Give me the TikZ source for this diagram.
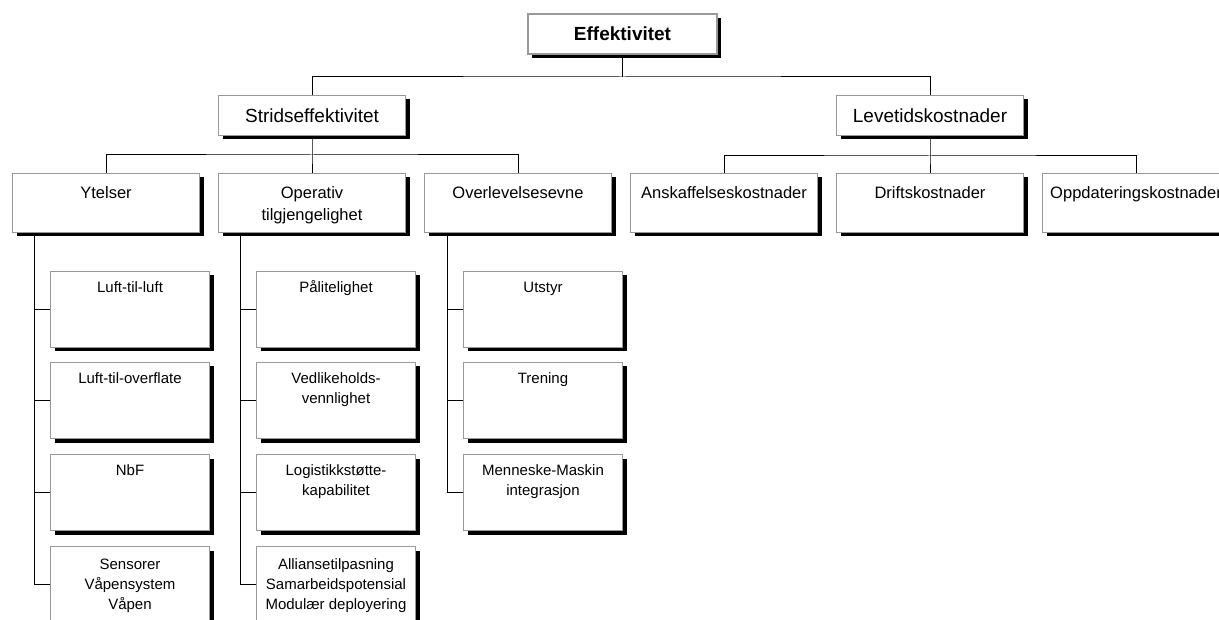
\documentclass[tikz,border=0pt]{standalone}
\usepackage{fontspec}
\setmainfont{Liberation Sans}
\usetikzlibrary{shadows}

% fixed-size cell with its text hung from the top edge:
% width, height, first baseline below top, text
\newcommand{\cell}[4]{\parbox[t][#2pt][t]{#1pt}{\centering\rule{0pt}{#3pt}#4}}

\tikzset{
  card/.style={draw=black!40, fill=white, line width=1pt, inner sep=0pt,
    anchor=north west,
    drop shadow={shadow xshift=4pt, shadow yshift=-4pt, fill=black, opacity=1}},
  rootbox/.style={card, line width=2pt, minimum width=189pt, minimum height=40pt,
    font=\bfseries\fontsize{19}{22}\selectfont},
  branchbox/.style={card, minimum width=187pt, minimum height=40pt,
    font=\fontsize{19}{22}\selectfont},
  groupbox/.style={card, font=\fontsize{16.5}{22}\selectfont},
  leafbox/.style={card, font=\fontsize{15}{20}\selectfont},
  link/.style={draw=black, line width=1pt},
}

\begin{document}
\begin{tikzpicture}[x=1pt, y=-1pt]
\clip (0,0) rectangle (1219,620);
\fill[white] (0,0) rectangle (1219,620);

% ---------- boxes ----------
\node[rootbox]   (eff)  at (527,13) {Effektivitet};
\node[branchbox] (strid) at (218,95) {Stridseffektivitet};
\node[branchbox] (lev)   at (836,95) {Levetidskostnader};

\node[groupbox] (ytel) at (12,173)   {\cell{187}{59}{25}{Ytelser}};
\node[groupbox] (opt)  at (218,173)  {\cell{187}{59}{25}{Operativ\\tilgjengelighet}};
\node[groupbox] (over) at (424,173)  {\cell{187}{59}{25}{Overlevelsesevne}};
\node[groupbox] (ansk) at (630,173)  {\cell{187}{59}{25}{Anskaffelseskostnader}};
\node[groupbox] (drif) at (836,173)  {\cell{187}{59}{25}{Driftskostnader}};
\node[groupbox] (oppd) at (1042,173) {\cell{187}{59}{25}{Oppdateringskostnader}};

\node[leafbox] (y1) at (50,271) {\cell{159}{76}{21}{Luft-til-luft}};
\node[leafbox] (y2) at (50,362) {\cell{159}{76}{21}{Luft-til-overflate}};
\node[leafbox] (y3) at (50,454) {\cell{159}{76}{21}{NbF}};
\node[leafbox] (y4) at (50,546) {\cell{159}{76}{23}{Sensorer\\Våpensystem\\Våpen}};

\node[leafbox] (o1) at (256,271) {\cell{159}{76}{21}{Pålitelighet}};
\node[leafbox] (o2) at (256,362) {\cell{159}{76}{21}{Vedlikeholds-\\vennlighet}};
\node[leafbox] (o3) at (256,454) {\cell{159}{76}{21}{Logistikkstøtte-\\kapabilitet}};
\node[leafbox] (o4) at (256,546) {\cell{159}{76}{23}{Alliansetilpasning\\Samarbeidspotensial\\Modulær deployering}};

\node[leafbox] (v1) at (463,271) {\cell{159}{76}{21}{Utstyr}};
\node[leafbox] (v2) at (463,362) {\cell{159}{76}{21}{Trening}};
\node[leafbox] (v3) at (463,454) {\cell{159}{76}{21}{Menneske-Maskin\\integrasjon}};

% ---------- junction points ----------
\coordinate (j0) at (eff.south |- 0,77);
\coordinate (j1) at (strid.south |- 0,155);
\coordinate (j2) at (lev.south |- 0,156);

% ---------- tree lines ----------
\draw[link] (eff.south) -- (j0);
\draw[link] (strid.north) |- (j0) -| (lev.north);

\draw[link] (strid.south) -- (j1) -- (opt.north |- j1) -- (opt.north);
\draw[link] (ytel.north) |- (j1) -| (over.north);

\draw[link] (lev.south) -- (j2) -- (drif.north |- j2) -- (drif.north);
\draw[link] (ansk.north) |- (j2) -| (oppd.north);

% stems down the left side of each group
\coordinate (ys) at ([xshift=22pt]ytel.south west);
\coordinate (os) at ([xshift=22pt]opt.south west);
\coordinate (vs) at ([xshift=23pt]over.south west);

\draw[link] (ys) |- (y4.west);
\foreach \c in {y1,y2,y3} \draw[link] (\c.west) -- (\c.west -| ys);
\draw[link] (os) |- (o4.west);
\foreach \c in {o1,o2,o3} \draw[link] (\c.west) -- (\c.west -| os);
\draw[link] (vs) |- (v3.west);
\foreach \c in {v1,v2} \draw[link] (\c.west) -- (\c.west -| vs);
\end{tikzpicture}
\end{document}
